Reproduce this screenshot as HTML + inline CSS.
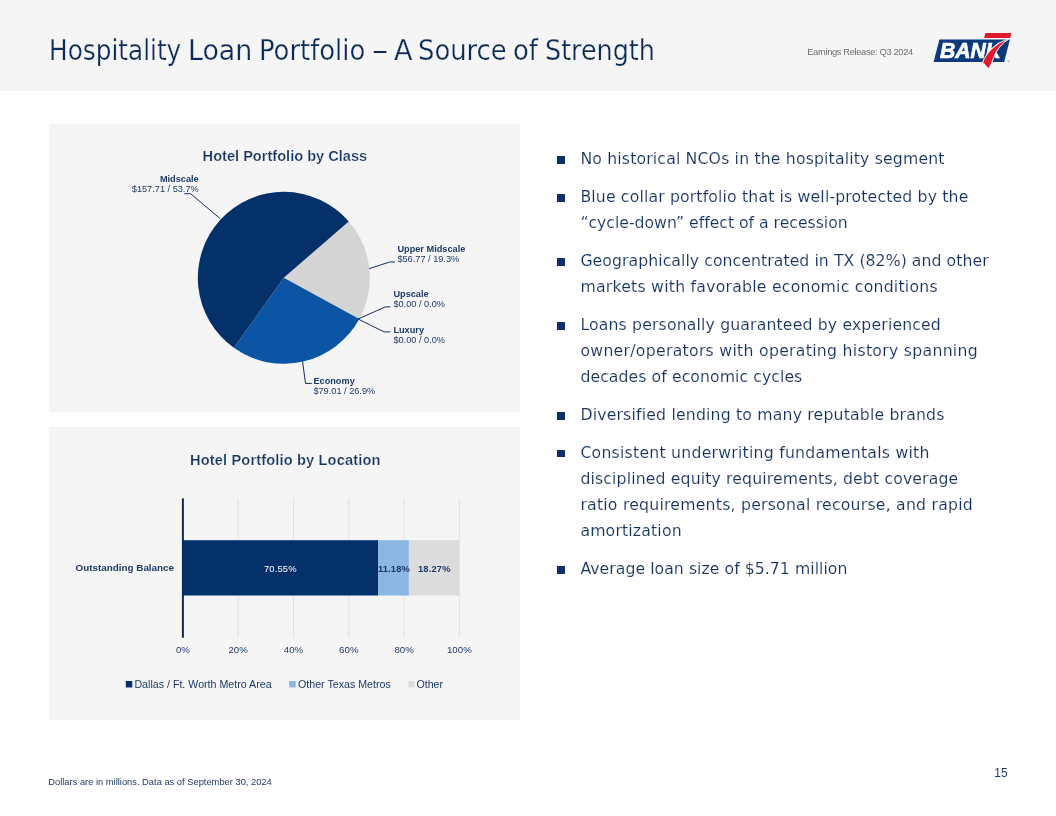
<!DOCTYPE html>
<html lang="en">
<head>
<meta charset="utf-8">
<title>Hospitality Loan Portfolio – A Source of Strength</title>
<style>
html,body{margin:0;padding:0;}
body{width:1056px;height:816px;position:relative;overflow:hidden;background:#fff;font-family:"Liberation Sans",sans-serif;color:#12305c;}
.abs{position:absolute;white-space:nowrap;}
#hdr{position:absolute;left:0;top:0;width:1056px;height:90.5px;background:#f5f5f5;}
#title span{position:absolute;top:0;transform-origin:0 0;}
#title{left:0px;top:33.3px;font-family:"DejaVu Sans Condensed","Liberation Sans",sans-serif;font-size:28px;line-height:36px;color:#0b2a58;-webkit-text-stroke:0.25px #f5f5f5;letter-spacing:0px;}
#er{left:807.2px;top:47.1px;font-size:9.33px;letter-spacing:-0.36px;line-height:11px;color:#6e6e6e;}
.panel{position:absolute;left:49px;width:471px;background:#f5f5f5;}
#p1{top:124px;height:288px;}
#p2{top:427px;height:293px;}
.pl{font-size:9.2px;line-height:9.7px;color:#1d3a66;}
.ax,.dl{width:60px;text-align:center;letter-spacing:0.15px;font-size:9.4px;line-height:11px;color:#1d3a66;}
.yl{font-size:9.85px;line-height:11px;font-weight:bold;color:#1d3a66;}
.lg{font-size:10.67px;line-height:12px;color:#1d3a66;}
.ax{font-size:9.65px !important;letter-spacing:0.05px !important;}
.ct{-webkit-text-stroke:0.22px #f5f5f5;font-size:14.6px;font-weight:bold;color:#17365f;line-height:18px;}
.bl{position:absolute;left:557.2px;width:7.5px;height:7.5px;background:#0f2f66;}
.t{-webkit-text-stroke:0.12px #fff;left:580.4px;font-family:"DejaVu Sans","Liberation Sans",sans-serif;font-size:15.7px;line-height:20px;color:#14325d;}
#foot{left:48.3px;top:777.3px;font-size:9.33px;line-height:11px;color:#17365f;}
#pg{left:994.3px;top:765.7px;font-size:12px;line-height:14px;color:#17365f;}
</style>
</head>
<body>
<div id="hdr"></div>
<div id="title" class="abs"><span style="left:48.9px;transform:scaleX(0.983)">Hospitality</span> <span style="left:188.1px;transform:scaleX(1.065)">Loan</span> <span style="left:258.5px;transform:scaleX(1.027)">Portfolio</span> <span style="left:372.0px;transform:scaleX(1.280)">–</span> <span style="left:393.7px;transform:scaleX(1.069)">A</span> <span style="left:417.6px;transform:scaleX(1.026)">Source</span> <span style="left:513.1px;transform:scaleX(1.028)">of</span> <span style="left:544.8px;transform:scaleX(1.009)">Strength</span></div>
<div id="er" class="abs">Earnings Release: Q3 2024</div>
<svg class="abs" style="left:920px;top:24px" width="110" height="52" viewBox="920 24 110 52">
<polygon points="939.4,39.6 1009.9,39.6 1004.2,62 933.6,62" fill="#0a3a7c"/>
<text x="939.9" y="58.1" font-family="Liberation Sans, sans-serif" font-weight="bold" font-style="italic" font-size="21.4" fill="#ffffff" stroke="#ffffff" stroke-width="0.7" textLength="61" lengthAdjust="spacingAndGlyphs">BANK</text>
<polygon points="985.4,33.1 1011.3,33.1 1010.2,38 984.1,38" fill="#e01a2d"/>
<path d="M1008.6 39.3 C1001.5 43.5 996 50.5 993.4 58.5 C992.2 62.3 990.6 65.8 988.5 68.8 L982.6 62.2 C986.3 53 994 45 1004.5 40.4 Z" fill="#e01a2d" stroke="#ffffff" stroke-width="1" stroke-linejoin="round"/>
<text x="1007.6" y="62.6" font-family="Liberation Sans, sans-serif" font-size="3" fill="#56627a">®</text>
</svg>

<div id="p1" class="panel"></div>
<div id="p2" class="panel"></div>
<svg class="abs" style="left:0;top:0" width="1056" height="816" viewBox="0 0 1056 816">
<path d="M283.80 277.80 L348.71 221.38 A86.00 86.00 0 0 1 359.34 318.90 Z" fill="#d5d5d5"/>
<path d="M283.80 277.80 L359.34 318.90 A86.00 86.00 0 0 1 233.88 347.83 Z" fill="#0c55a5"/>
<path d="M283.80 277.80 L233.88 347.83 A86.00 86.00 0 1 1 348.71 221.38 Z" fill="#05316a"/>
<polyline points="184.3,193.7 190.5,193.7 220.3,218.7" fill="none" stroke="#14305c" stroke-width="1"/>
<polyline points="369.1,268.7 389.7,262.0 394.9,262.0" fill="none" stroke="#14305c" stroke-width="1"/>
<polyline points="358.1,319.0 385.3,306.9 390.4,306.9" fill="none" stroke="#14305c" stroke-width="1"/>
<polyline points="358.1,319.0 384.1,331.9 390.4,331.9" fill="none" stroke="#14305c" stroke-width="1"/>
<polyline points="302.5,361.2 305.5,383.4 311.8,383.4" fill="none" stroke="#14305c" stroke-width="1"/>
</svg>
<div class="abs pl" style="right:857.3px;top:175.4px;text-align:right"><b>Midscale</b><br>$157.71 / 53.7%</div>
<div class="abs pl" style="left:397.4px;top:245.3px"><b>Upper Midscale</b><br>$56.77 / 19.3%</div>
<div class="abs pl" style="left:393.4px;top:290.1px"><b>Upscale</b><br>$0.00 / 0.0%</div>
<div class="abs pl" style="left:393.4px;top:325.8px"><b>Luxury</b><br>$0.00 / 0.0%</div>
<div class="abs pl" style="left:313.4px;top:376.9px"><b>Economy</b><br>$79.01 / 26.9%</div>
<div class="abs ct" style="left:202.6px;top:147.1px">Hotel Portfolio by Class</div>
<svg class="abs" style="left:0;top:0" width="1056" height="816" viewBox="0 0 1056 816">
<line x1="238.2" y1="498" x2="238.2" y2="638" stroke="#e2e2e2" stroke-width="1"/>
<line x1="293.5" y1="498" x2="293.5" y2="638" stroke="#e2e2e2" stroke-width="1"/>
<line x1="348.8" y1="498" x2="348.8" y2="638" stroke="#e2e2e2" stroke-width="1"/>
<line x1="404.1" y1="498" x2="404.1" y2="638" stroke="#e2e2e2" stroke-width="1"/>
<line x1="459.4" y1="498" x2="459.4" y2="638" stroke="#e2e2e2" stroke-width="1"/>
<rect x="182.9" y="540.2" width="195.1" height="55.3" fill="#05316a"/>
<rect x="378.0" y="540.2" width="30.9" height="55.3" fill="#8bb8e2"/>
<rect x="408.9" y="540.2" width="50.5" height="55.3" fill="#dcdcdc"/>
<line x1="182.9" y1="498.3" x2="182.9" y2="637.8" stroke="#0a2d5e" stroke-width="2"/>
<rect x="125.8" y="681" width="6.5" height="6.5" fill="#05316a"/>
<rect x="289.2" y="681" width="6.5" height="6.5" fill="#8bb8e2"/>
<rect x="408.2" y="681" width="6.5" height="6.5" fill="#dcdcdc"/>
</svg>
<div class="abs ax" style="left:152.9px;top:643.9px">0%</div>
<div class="abs ax" style="left:208.2px;top:643.9px">20%</div>
<div class="abs ax" style="left:263.5px;top:643.9px">40%</div>
<div class="abs ax" style="left:318.8px;top:643.9px">60%</div>
<div class="abs ax" style="left:374.1px;top:643.9px">80%</div>
<div class="abs ax" style="left:429.4px;top:643.9px">100%</div>
<div class="abs dl" style="left:250.3px;top:562.7px;color:#fff">70.55%</div>
<div class="abs dl" style="left:364.0px;top:562.7px;font-weight:bold">11.18%</div>
<div class="abs dl" style="left:404.3px;top:562.7px;font-weight:bold">18.27%</div>
<div class="abs yl" style="left:75.6px;top:562.3px">Outstanding Balance</div>
<div class="abs lg" style="left:134.4px;top:678px">Dallas / Ft. Worth Metro Area</div>
<div class="abs lg" style="left:298px;top:678px">Other Texas Metros</div>
<div class="abs lg" style="left:416.4px;top:678px">Other</div>
<div class="abs ct" style="left:190px;top:450.8px;letter-spacing:0.15px">Hotel Portfolio by Location</div>
<div class="bl" style="top:156.2px"></div>
<div class="abs t" style="top:149.2px;letter-spacing:0.163px">No historical NCOs in the hospitality segment</div>
<div class="bl" style="top:194.1px"></div>
<div class="abs t" style="top:187.1px;letter-spacing:0.152px">Blue collar portfolio that is well-protected by the</div>
<div class="abs t" style="top:213.2px;letter-spacing:-0.022px">“cycle-down” effect of a recession</div>
<div class="bl" style="top:258.1px"></div>
<div class="abs t" style="top:251.1px;letter-spacing:0.063px">Geographically concentrated in TX (82%) and other</div>
<div class="abs t" style="top:277.1px;letter-spacing:0.237px">markets with favorable economic conditions</div>
<div class="bl" style="top:322.0px"></div>
<div class="abs t" style="top:315.0px;letter-spacing:0.152px">Loans personally guaranteed by experienced</div>
<div class="abs t" style="top:341.1px;letter-spacing:0.286px">owner/operators with operating history spanning</div>
<div class="abs t" style="top:367.1px;letter-spacing:0.072px">decades of economic cycles</div>
<div class="bl" style="top:412.0px"></div>
<div class="abs t" style="top:405.0px;letter-spacing:0.180px">Diversified lending to many reputable brands</div>
<div class="bl" style="top:449.9px"></div>
<div class="abs t" style="top:442.9px;letter-spacing:0.238px">Consistent underwriting fundamentals with</div>
<div class="abs t" style="top:468.9px;letter-spacing:0.140px">disciplined equity requirements, debt coverage</div>
<div class="abs t" style="top:495.0px;letter-spacing:0.223px">ratio requirements, personal recourse, and rapid</div>
<div class="abs t" style="top:521.0px;letter-spacing:0.169px">amortization</div>
<div class="bl" style="top:566.0px"></div>
<div class="abs t" style="top:559.0px;letter-spacing:0.045px">Average loan size of $5.71 million</div>
<div id="foot" class="abs">Dollars are in millions. Data as of September 30, 2024</div>
<div id="pg" class="abs">15</div>
</body>
</html>
